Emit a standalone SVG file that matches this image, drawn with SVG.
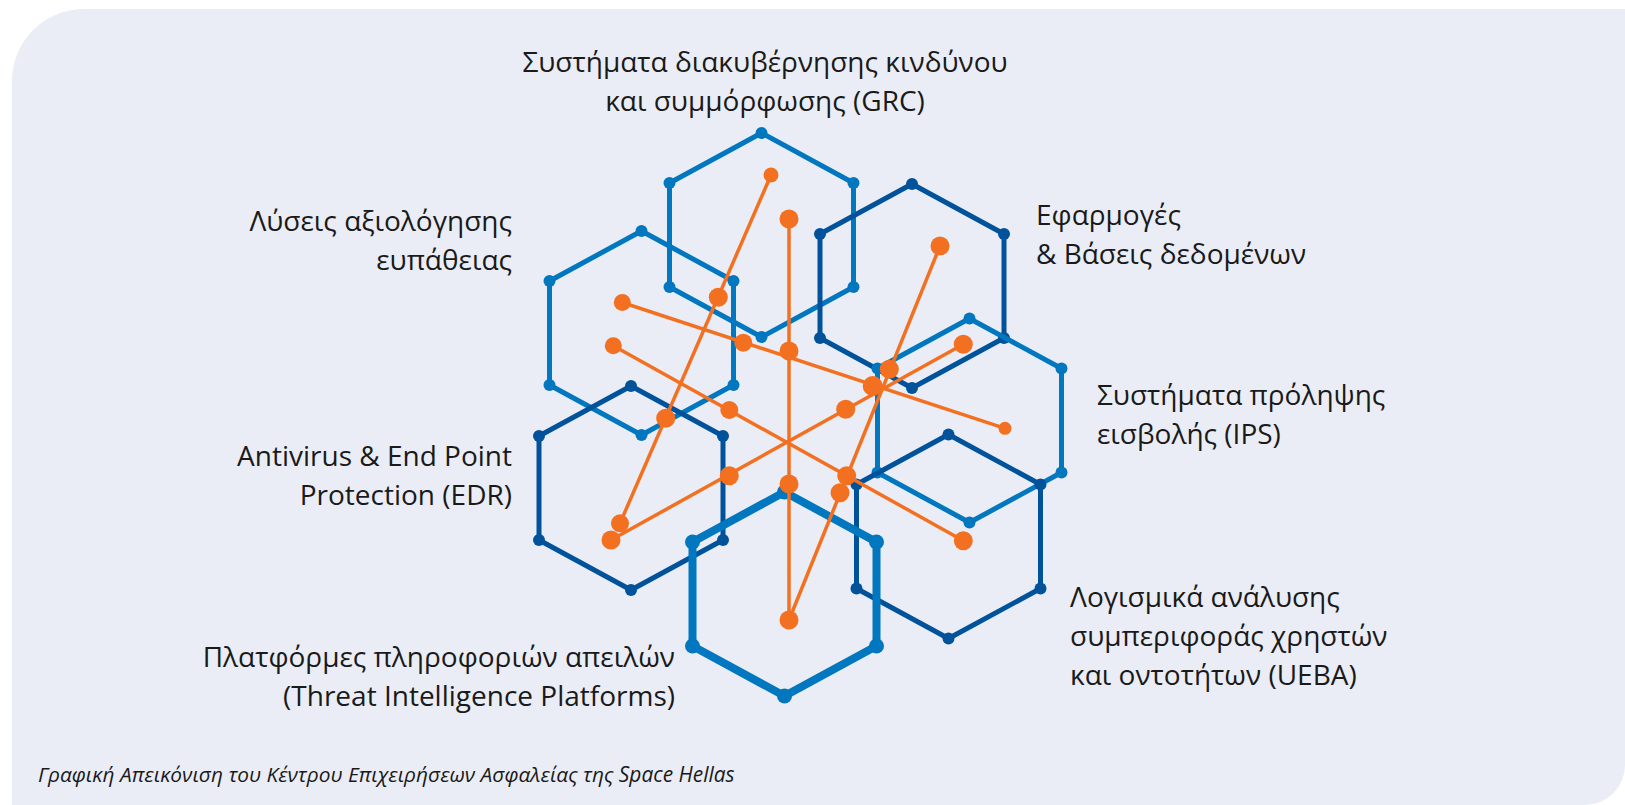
<svg xmlns="http://www.w3.org/2000/svg" xmlns:xlink="http://www.w3.org/1999/xlink" width="1625" height="805" viewBox="0 0 1625 805">
  <style>
    .lbl { font-family: "Open Sans", "Noto Sans", "DejaVu Sans", sans-serif; font-size: 28px; fill: #1a1a1a; }
    .cap { font-family: "Open Sans", "Noto Sans", "DejaVu Sans", sans-serif; font-size: 20.9px; font-style: italic; fill: #1a1a1a; }
    .lt { fill: #0077BE; stroke: #0077BE; stroke-width: 5; }
    .dk { fill: #00529B; stroke: #00529B; stroke-width: 5; }
    .thick { fill: #0077BE; stroke: #0077BE; stroke-width: 8; }
    .or { stroke: #F37021; stroke-width: 3.5; fill: none; }
    .od { fill: #F37021; }
  </style>
  <defs>
    <g id="hex">
      <path d="M0,-102 L92,-52 L92,52 L0,102 L-92,52 L-92,-52 Z" fill="none" stroke-linejoin="round"/>
      <g stroke="none">
        <circle cx="0" cy="-102" r="6"/>
        <circle cx="92" cy="-52" r="6"/>
        <circle cx="92" cy="52" r="6"/>
        <circle cx="0" cy="102" r="6"/>
        <circle cx="-92" cy="52" r="6"/>
        <circle cx="-92" cy="-52" r="6"/>
      </g>
    </g>
    <g id="hexBig">
      <path d="M0,-102 L92,-52 L92,52 L0,102 L-92,52 L-92,-52 Z" fill="none" stroke-linejoin="round"/>
      <g stroke="none">
        <circle cx="0" cy="-102" r="7.5"/>
        <circle cx="92" cy="-52" r="7.5"/>
        <circle cx="92" cy="52" r="7.5"/>
        <circle cx="0" cy="102" r="7.5"/>
        <circle cx="-92" cy="52" r="7.5"/>
        <circle cx="-92" cy="-52" r="7.5"/>
      </g>
    </g>
  </defs>

  <path id="background" d="M12,84 A72,72 0 0 1 84,9 H1625 V765 A40,40 0 0 1 1585,805 H12 Z" fill="#EAEDF5"/>

  <g id="hex-grc">
    <use xlink:href="#hex" href="#hex" class="lt" x="761.5" y="235"/>
    <text class="lbl" x="765" y="72" text-anchor="middle">Συστήματα διακυβέρνησης κινδύνου</text>
    <text class="lbl" x="765" y="111" text-anchor="middle">και συμμόρφωσης (GRC)</text>
  </g>
  <g id="hex-vulnerability">
    <use xlink:href="#hex" href="#hex" class="lt" x="641.5" y="333"/>
    <text class="lbl" x="512" y="231" text-anchor="end">Λύσεις αξιολόγησης</text>
    <text class="lbl" x="512" y="270" text-anchor="end">ευπάθειας</text>
  </g>
  <g id="hex-edr">
    <use xlink:href="#hex" href="#hex" class="dk" x="631" y="488"/>
    <text class="lbl" x="512" y="466" text-anchor="end">Antivirus &amp; End Point</text>
    <text class="lbl" x="512" y="505" text-anchor="end">Protection (EDR)</text>
  </g>
  <g id="hex-apps">
    <use xlink:href="#hex" href="#hex" class="dk" x="912" y="286"/>
    <text class="lbl" x="1036" y="225">Εφαρμογές</text>
    <text class="lbl" x="1036" y="264">&amp; Βάσεις δεδομένων</text>
  </g>
  <g id="hex-ips">
    <use xlink:href="#hex" href="#hex" class="lt" x="969.5" y="420.5"/>
    <text class="lbl" x="1097" y="405">Συστήματα πρόληψης</text>
    <text class="lbl" x="1097" y="444">εισβολής (IPS)</text>
  </g>
  <g id="hex-ueba">
    <use xlink:href="#hex" href="#hex" class="dk" x="948.5" y="536.5"/>
    <text class="lbl" x="1070" y="607">Λογισμικά ανάλυσης</text>
    <text class="lbl" x="1070" y="646">συμπεριφοράς χρηστών</text>
    <text class="lbl" x="1070" y="685">και οντοτήτων (UEBA)</text>
  </g>
  <g id="hex-threat">
    <use xlink:href="#hexBig" href="#hexBig" class="thick" x="784.5" y="594"/>
    <text class="lbl" x="675" y="667" text-anchor="end">Πλατφόρμες πληροφοριών απειλών</text>
    <text class="lbl" x="675" y="706" text-anchor="end">(Threat Intelligence Platforms)</text>
  </g>

  <g id="connectors">
    <line class="or" x1="771" y1="175" x2="620" y2="523.3"/>
    <line class="or" x1="789" y1="219" x2="789" y2="620"/>
    <line class="or" x1="940" y1="246" x2="789" y2="620"/>
    <line class="or" x1="622.3" y1="302.5" x2="1005" y2="428.3"/>
    <line class="or" x1="613.3" y1="345.7" x2="963.3" y2="540.7"/>
    <line class="or" x1="963.3" y1="344.3" x2="611" y2="540"/>
    <g class="od">
      <circle cx="771" cy="175" r="7.5"/>
      <circle cx="718.3" cy="297.3" r="9.5"/>
      <circle cx="665.7" cy="418.3" r="9.5"/>
      <circle cx="620" cy="523.3" r="9"/>
      <circle cx="789" cy="219" r="9.5"/>
      <circle cx="789" cy="351" r="9.5"/>
      <circle cx="789" cy="484" r="9.5"/>
      <circle cx="789" cy="620" r="9.5"/>
      <circle cx="940" cy="246" r="9.5"/>
      <circle cx="889.3" cy="369.3" r="9.5"/>
      <circle cx="840" cy="492.7" r="9.5"/>
      <circle cx="622.3" cy="302.5" r="8.5"/>
      <circle cx="743.3" cy="342.7" r="9"/>
      <circle cx="872.7" cy="386" r="10"/>
      <circle cx="1005" cy="428.3" r="6.5"/>
      <circle cx="613.3" cy="345.7" r="8.5"/>
      <circle cx="729.3" cy="410" r="9"/>
      <circle cx="846.7" cy="475.7" r="9.5"/>
      <circle cx="963.3" cy="540.7" r="9.5"/>
      <circle cx="963.3" cy="344.3" r="9.5"/>
      <circle cx="845.7" cy="409.3" r="9.5"/>
      <circle cx="729.3" cy="475.7" r="9.5"/>
      <circle cx="611" cy="540" r="9.5"/>
    </g>
  </g>

  <text class="cap" x="38" y="782">Γραφική Απεικόνιση του Κέντρου Επιχειρήσεων Ασφαλείας της Space Hellas</text>
</svg>
